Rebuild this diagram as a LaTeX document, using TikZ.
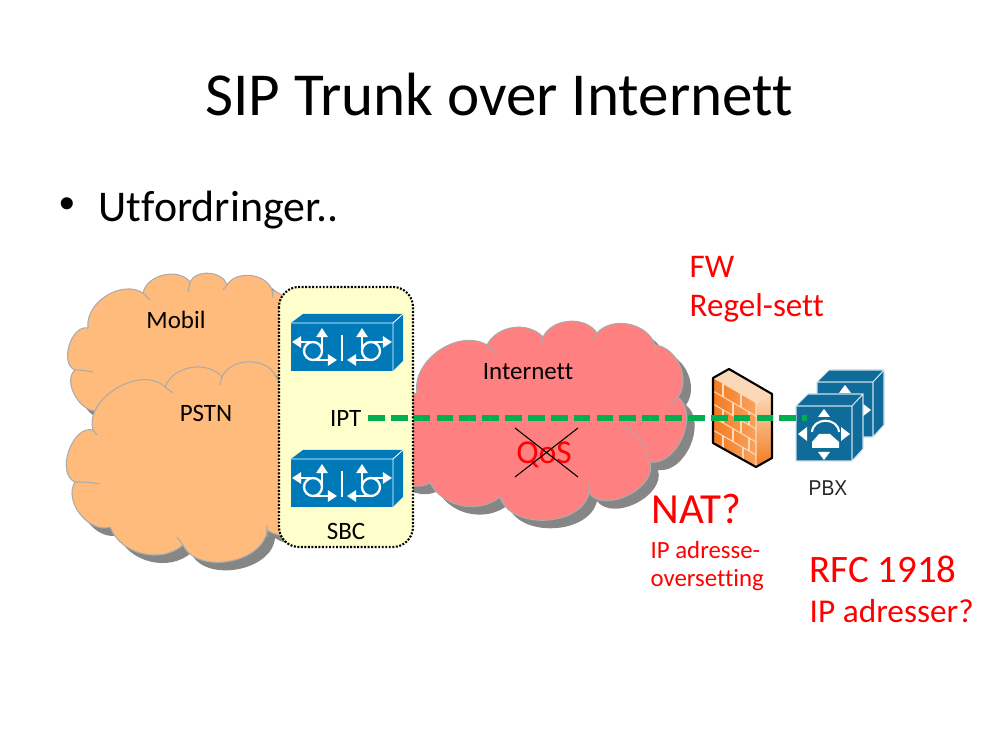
\documentclass[tikz,border=0pt]{standalone}
\usepackage{fontspec}
\setmainfont{Carlito}[Ligatures=NoCommon]
\newfontfamily\bulletfont{Liberation Sans}
\newfontfamily\pbxfont{Liberation Sans}[FakeStretch=0.9]
\usetikzlibrary{arrows.meta,positioning}
\definecolor{cloudorange}{HTML}{FFBB7B}
\definecolor{cloudred}{HTML}{FF8080}
\definecolor{cloudedge}{HTML}{ABABAB}
\definecolor{cloudshadow}{HTML}{868686}
\definecolor{sbcyellow}{HTML}{FFFFCC}
\definecolor{sbcblue}{HTML}{0079B8}
\definecolor{pbxblue}{HTML}{0F6B99}
\definecolor{ipgreen}{HTML}{00B050}
\definecolor{brickline}{HTML}{FFD9B8}
\definecolor{walldark}{HTML}{F47B20}
\definecolor{walllight}{HTML}{F9A25E}
\definecolor{walltop}{HTML}{FBD8B8}
\newcommand{\mobilcloud}{(88,328) to[bend left=65] (143,293) to[bend left=65] (190,282) to[bend left=70] (227,285) to[bend left=65] (272,290) to[bend left=40] (300,340) -- (300,400) -- (100,410) to[bend left=80] (75,370) to[bend left=85] (88,328) -- cycle}
\newcommand{\pstncloud}{(93,430) to[bend left=75] (165,387) to[bend left=60] (222,377) to[bend left=65] (275,375) -- (320,450) -- (310,525) to[bend left=40] (267,530) to[bend left=75] (183,545) to[bend left=55] (110,527) to[bend left=70] (75,482) to[bend left=85] (93,430) -- cycle}
\newcommand{\internetcloud}{(417,393) to[bend left=65] (487,345) to[bend left=55] (543,337) to[bend left=60] (597,333) to[bend left=60] (655,345) to[bend left=60] (678,397) to[bend left=75] (650,462) to[bend left=80] (589,493) to[bend left=75] (500,497) to[bend left=50] (430,483) to[bend left=45] (390,470) -- (390,400) -- cycle}
\tikzset{
    sbcbox/.pic={
        \fill[sbcblue] (0,0) -- (12,-9) -- (112,-9) -- (102,0) -- cycle;
        \fill[sbcblue] (102,0) -- (112,-9) -- (112,38) -- (102,48) -- cycle;
        \fill[sbcblue] (0,0) rectangle (102,48);
        \draw[white,line width=0.25pt] (0,0) -- (102,0) -- (102,48) (102,0) -- (112,-9);
        \draw[white,line width=0.65pt] (22,28) circle (9);
        \draw[white,line width=0.65pt] (80,28) circle (9);
        \draw[glyphline] (22,19) -- (1,19);
        \draw[glyphline] (31,28) -- (31,5);
        \draw[glyphline] (22,37) -- (46,37);
        \draw[white,line width=0.65pt] (51,12) -- (51,38);
        \draw[glyphline] (80,19) -- (101,19);
        \draw[glyphline] (71,28) -- (71,5);
        \draw[glyphline] (80,37) -- (56,37);
    },
    pbxbox/.pic={
        \fill[pbxblue] (0,0) -- (12,-12) -- (67,-12) -- (56,0) -- cycle;
        \fill[pbxblue] (56,0) -- (67,-12) -- (67,43) -- (56,55) -- cycle;
        \fill[pbxblue] (0,0) rectangle (56,55);
        \draw[pbxedge] (0,0) rectangle (56,55) (56,0) -- (67,-12) (0,0) -- (12,-12) -- (67,-12) -- (67,43) -- (56,55);
        \fill[white] (28,3) -- (34,11) -- (22,11) -- cycle;
        \fill[white] (28,54) -- (34,46) -- (22,46) -- cycle;
        \fill[white] (2,28) -- (11,21) -- (11,35) -- cycle;
        \fill[white] (54,28) -- (45,21) -- (45,35) -- cycle;
        \fill[white] (16,42) -- (43,42) -- (43,36) -- (34,28) -- (23,28) -- (16,36) -- cycle;
        \draw[white,line width=0.6pt] (16,26) .. controls (17,11) and (42,11) .. (43,26);
    },
    cloudfill/.style={draw=cloudedge,line width=0.3pt},
    curl/.style={draw=cloudedge,line width=0.3pt},
    glyphline/.style={white,line width=0.65pt,-{Triangle[width=3.2pt,length=2.6pt]}},
    pbxedge/.style={draw=white!80!pbxblue,line width=0.3pt},
    brick/.style={brickline,line width=0.3pt},
    blacktext/.style={text=black,inner sep=0pt,font=\fontsize{7.1}{8.5}\selectfont},
    redtext/.style={text=red,inner sep=0pt,anchor=west,align=left},
    iptline/.style={ipgreen,line width=1.5pt,dash pattern=on 4.75pt off 1.75pt}
}
\begin{document}
\begin{tikzpicture}[x=0.01cm,y=-0.01cm]
    \useasboundingbox (0,0) rectangle (999,749);
    %% headings
    \node[inner sep=0pt,font=\fontsize{17.37}{20}\selectfont] (title) at (499,95) {SIP Trunk over Internett};
    \node[inner sep=0pt,anchor=west,font=\bulletfont\fontsize{12.63}{15}\selectfont] (bullet) at (59,208) {•};
    \node[inner sep=0pt,anchor=west,font=\fontsize{12.47}{15}\selectfont] (heading) at (98,210) {Utfordringer..};
    %% clouds
    \fill[cloudshadow,xshift=0.08cm,yshift=-0.08cm] \mobilcloud;
    \draw[cloudfill,fill=cloudorange] \mobilcloud;
    \draw[curl] (143,293) -- (150,300) (190,282) -- (188,292) (227,285) -- (223,290) (272,290) -- (273,298) (75,370) to[bend left=5] (93,372);
    \fill[cloudshadow,xshift=0.08cm,yshift=-0.08cm] \pstncloud;
    \draw[cloudfill,fill=cloudorange] \pstncloud;
    \draw[curl] (165,387) -- (173,393) (222,377) -- (220,385) (183,545) -- (177,537) (75,482) to[bend left=5] (100,484) (93,430) -- (97,435) (267,525) -- (267,537);
    \fill[cloudshadow,xshift=0.08cm,yshift=-0.08cm] \internetcloud;
    \draw[cloudfill,fill=cloudred] \internetcloud;
    \draw[curl] (487,345) -- (495,352) (543,337) -- (542,344) (597,333) -- (591,340) (655,345) -- (656,353) (678,397) -- (669,405) (626,428) to[bend left=30] (648,462) (589,493) -- (589,483) (500,497) -- (506,507) (430,483) -- (437,484);
    %% SBC
    \fill[sbcyellow,rounded corners=5.7pt] (279,287) rectangle (413,547);
    \draw[black,line width=0.6pt,dash pattern=on 0.55pt off 0.45pt,rounded corners=5.7pt] (279,287) rectangle (413,547);
    \pic at (291,323) {sbcbox};
    \pic at (291,459) {sbcbox};
    \node[blacktext] (mobil) at (176,320) {Mobil};
    \node[blacktext] (pstn) at (206,413) {PSTN};
    \node[blacktext] (sbc) at (346,531) {SBC};
    \node[blacktext,anchor=east] (ipt) at (362,418) {IPT};
    \node[blacktext] (internett) at (528,372) {Internett};
    %% firewall
    \shade[left color=walldark,right color=walllight] (713,378) -- (756,403) -- (756,467) -- (713,443) -- cycle;
    \fill[walltop] (713,378) -- (729,369) -- (772,394) -- (756,403) -- cycle;
    \shade[top color=walltop,bottom color=walldark] (756,403) -- (772,394) -- (772,458) -- (756,467) -- cycle;
    \foreach \v in {13,26,39,52}
        \draw[brick] (713,378+\v) -- (756,403+\v);
    \foreach \u/\v in {10/0,28/0,20/13,36/13,10/26,28/26,20/39,36/39,10/52,30/52}
        \draw[brick] (713+\u,378+0.58*\u+\v) -- ++(0,13);
    \draw[brick] (756,403) -- (756,467) (756,403) -- (772,394);
    \draw[black,line width=0.6pt,line join=round] (713,378) -- (729,369) -- (772,394) -- (772,458) -- (756,467) -- (713,443) -- cycle;
    %% PBX
    \pic at (817,382) {pbxbox};
    \pic at (796,406) {pbxbox};
    \node[inner sep=0pt,text=black!85,font=\pbxfont\fontsize{6.1}{7}\selectfont] (pbx) at (828,488) {PBX};
    \coordinate (pbxend) at (807,418);
    %% trunk
    \draw[iptline] (ipt.east) ++(6,0) -- (pbxend);
    %% QoS
    \node[text=red,inner sep=0pt,font=\fontsize{9.47}{11}\selectfont] (qos) at (544,455) {QoS};
    \coordinate (qosa) at (515,428);
    \coordinate (qosb) at (578,477);
    \coordinate (qosc) at (515,477);
    \coordinate (qosd) at (578,428);
    \draw[black,line width=0.3pt] (qosa) -- (qosb) (qosc) -- (qosd);
    %% red notes
    \node[redtext,font=\fontsize{9.4}{11.1}\selectfont] (fw) at (689,289) {FW\\[0pt]Regel-sett};
    \node[redtext,font=\fontsize{12.2}{14}\selectfont] (nat) at (651,509) {NAT?};
    \node[redtext,font=\fontsize{7.05}{8.2}\selectfont] (natnote) at (650,566) {IP adresse-\\oversetting};
    \node[redtext,font=\fontsize{11.05}{13}\selectfont] (rfc) at (809,569) {RFC 1918};
    \node[redtext,font=\fontsize{9.47}{11}\selectfont] (rfcnote) at (809,611) {IP adresser?};
\end{tikzpicture}
\end{document}
